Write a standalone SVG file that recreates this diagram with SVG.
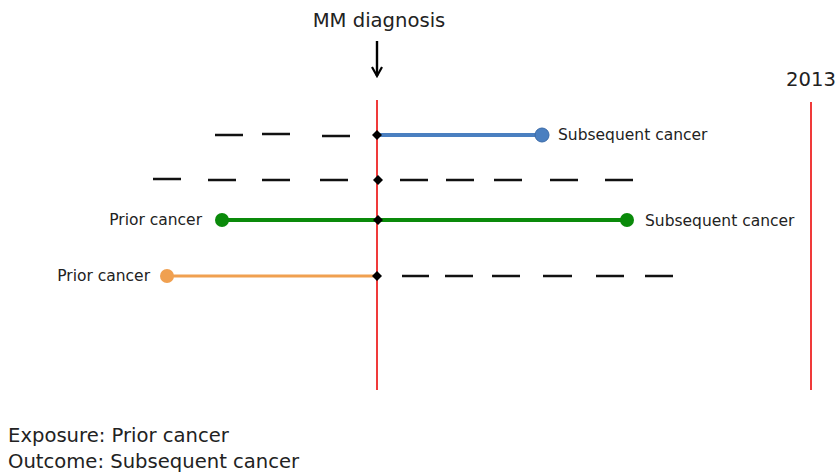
<svg xmlns="http://www.w3.org/2000/svg" width="838" height="473" viewBox="0 0 838 473">
<defs>
<style>
text{font-family:"DejaVu Sans","Liberation Sans",sans-serif;fill:#222}
.lbl{font-size:15.5px}
.big{font-size:19.6px}
.red{stroke:#f03a3a;stroke-width:2}
.dot{fill:#000}
</style>
<marker id="ah" viewBox="0 0 12 12" refX="10" refY="6" markerWidth="12" markerHeight="12" orient="auto" markerUnits="userSpaceOnUse">
<path d="M1,1 L10,6 L1,11" fill="none" stroke="#000" stroke-width="2.2"/>
</marker>
</defs>
<rect width="838" height="473" fill="#fff"/>
<g id="timeline-mm">
<text class="big" x="379" y="27" text-anchor="middle">MM diagnosis</text>
<line x1="377" y1="41" x2="377" y2="76" stroke="#000" stroke-width="2.4" marker-end="url(#ah)"/>
<line class="red" x1="377" y1="100" x2="377" y2="390"/>
</g>
<g id="timeline-2013">
<text class="big" x="811" y="86" text-anchor="middle">2013</text>
<line class="red" x1="811" y1="102" x2="811" y2="390"/>
</g>
<g id="connectors">
<g id="row1">
<path d="M215 135h28M262 134h28M322 136h28" stroke="#111" stroke-width="2.5"/>
<line x1="377" y1="135" x2="542" y2="135" stroke="#4a7fc0" stroke-width="4"/>
<circle cx="542" cy="135" r="7" fill="#4a7fc0" stroke="#3a6aa8" stroke-width="1"/>
<path class="dot" d="M377 130l5 5-5 5-5-5z"/>
<text class="lbl" x="558" y="140">Subsequent cancer</text>
</g>
<g id="row2">
<path d="M153 179h28M208 180h28M262 180h28M320 180h28M400 180h28M446 180h28M494 180h28M550 180h28M605 180h28" stroke="#111" stroke-width="2.5"/>
<path class="dot" d="M378 175l5 5-5 5-5-5z"/>
</g>
<g id="row3">
<line x1="222" y1="220" x2="627" y2="220" stroke="#0a8a0a" stroke-width="4"/>
<circle cx="222" cy="220" r="7" fill="#0a8a0a"/>
<circle cx="627" cy="220" r="7" fill="#0a8a0a"/>
<path class="dot" d="M378 215l5 5-5 5-5-5z"/>
<text class="lbl" x="202" y="225" text-anchor="end">Prior cancer</text>
<text class="lbl" x="645" y="226">Subsequent cancer</text>
</g>
<g id="row4">
<line x1="167" y1="276" x2="377" y2="276" stroke="#f0a050" stroke-width="3"/>
<circle cx="167" cy="276" r="7" fill="#f0a050"/>
<path class="dot" d="M377 271l5 5-5 5-5-5z"/>
<path d="M402 276h27M445 276h28M492 276h28M543 276h29M596 276h28M645 276h28" stroke="#111" stroke-width="2.5"/>
<text class="lbl" x="150" y="281" text-anchor="end">Prior cancer</text>
</g>
</g>
<g id="legend">
<text class="big" x="8" y="442">Exposure: Prior cancer</text>
<text class="big" x="8" y="468">Outcome: Subsequent cancer</text>
</g>
</svg>
